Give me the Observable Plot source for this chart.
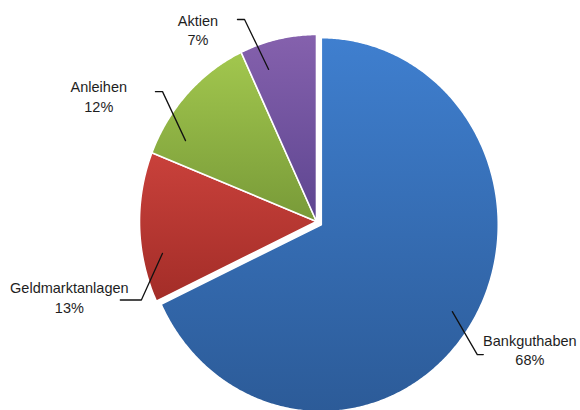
<!DOCTYPE html>
<html>
<head>
<meta charset="utf-8">
<script src="https://cdn.jsdelivr.net/npm/d3@7"></script>
<script src="https://cdn.jsdelivr.net/npm/@observablehq/plot@0.6"></script>
<style>
  html, body { margin: 0; padding: 0; background: #fff; }
  #chart { width: 580px; height: 410px; }
</style>
</head>
<body>
<div id="chart"></div>
<script>
// ---- data ----
const categories = ["Bankguthaben", "Geldmarktanlagen", "Anleihen", "Aktien"];
const values = [68, 13, 12, 7];

// ---- styles ----
const colorTop = ["#3f7fcf", "#c9413b", "#a2c74e", "#8561ad"];
const colorBottom = ["#2c5b98", "#a32d28", "#789a38", "#5d4590"];
const explode = [0.032, 0, 0, 0];

// ---- layout (pie geometry in pixels, labels in pie units) ----
const W = 580, H = 410;
const cx = 316, cy = 221, rx = 177, ry = 187;
// leader: inner point = mid-angle + shift at radius r; elbow/tail/text offsets in pie units
const labelLayout = [
  {shift: -0.3, r: 0.874, elbow: [0.141, -0.230], tail: 0.034, text: [0.297, 0.028]},
  {shift: -9.3, r: 0.887, elbow: [-0.119, -0.249], tail: -0.119, text: [-0.407, 0.016]},
  {shift: -12.9, r: 0.857, elbow: [-0.130, 0.262], tail: -0.040, text: [-0.360, -0.022]},
  {shift: -5.8, r: 0.857, elbow: [-0.136, 0.267], tail: -0.040, text: [-0.263, -0.051]}
];

const rad = d => d * Math.PI / 180;
const total = d3.sum(values);
let cum = 0;
const slices = categories.map((name, i) => {
  const a0 = cum / total * 360;
  cum += values[i];
  const a1 = cum / total * 360;
  const mid = (a0 + a1) / 2;
  const ox = explode[i] * Math.sin(rad(mid));
  const oy = explode[i] * Math.cos(rad(mid));
  return {name, i, a0, a1, mid, ox, oy, pct: Math.round(values[i] / total * 100)};
});

// polygon outline of every slice (centre + arc), in pie units
const slicePts = [];
for (const s of slices) {
  slicePts.push({name: s.name, x: s.ox, y: s.oy});
  const n = Math.max(2, Math.ceil((s.a1 - s.a0) / 0.5));
  for (let k = 0; k <= n; k++) {
    const a = rad(s.a0 + (s.a1 - s.a0) * k / n);
    slicePts.push({name: s.name, x: s.ox + Math.sin(a), y: s.oy + Math.cos(a)});
  }
}

// leader lines and labels
const leaderPts = [];
const labels = [];
slices.forEach((s, i) => {
  const L = labelLayout[i];
  const a = rad(s.mid + L.shift);
  const p0 = [s.ox + L.r * Math.sin(a), s.oy + L.r * Math.cos(a)];
  const p1 = [p0[0] + L.elbow[0], p0[1] + L.elbow[1]];
  const p2 = [p1[0] + L.tail, p1[1]];
  [p0, p1, p2].forEach(p => leaderPts.push({name: s.name, x: p[0], y: p[1]}));
  labels.push({x: p1[0] + L.text[0], y: p1[1] + L.text[1], label: `${s.name}\n${s.pct}%`});
});

const marks = slices.map(s => Plot.line(
  slicePts.filter(d => d.name === s.name),
  {x: "x", y: "y", curve: "linear-closed", fill: `url(#grad${s.i})`, stroke: "white", strokeWidth: 1.6, strokeLinejoin: "round"}
));
marks.push(Plot.line(leaderPts, {x: "x", y: "y", z: "name", stroke: "#111", strokeWidth: 1.3}));
marks.push(Plot.text(labels, {
  x: "x", y: "y", text: "label", textAnchor: "middle", lineAnchor: "middle",
  lineHeight: 1.35, fontSize: 14.5, fill: "#1e1e1e"
}));

const chart = Plot.plot({
  width: W, height: H, margin: 0,
  x: {domain: [-cx / rx, (W - cx) / rx], axis: null},
  y: {domain: [-(H - cy) / ry, cy / ry], axis: null},
  style: {background: "white", fontFamily: "'Liberation Sans', Arial, sans-serif", overflow: "visible"},
  marks
});

const defs = d3.select(chart).insert("defs", ":first-child");
slices.forEach(s => {
  const g = defs.append("linearGradient").attr("id", `grad${s.i}`)
    .attr("x1", 0).attr("y1", 0).attr("x2", 0).attr("y2", 1);
  g.append("stop").attr("offset", "0%").attr("stop-color", colorTop[s.i]);
  g.append("stop").attr("offset", "100%").attr("stop-color", colorBottom[s.i]);
});

document.getElementById("chart").append(chart);
</script>
</body>
</html>
